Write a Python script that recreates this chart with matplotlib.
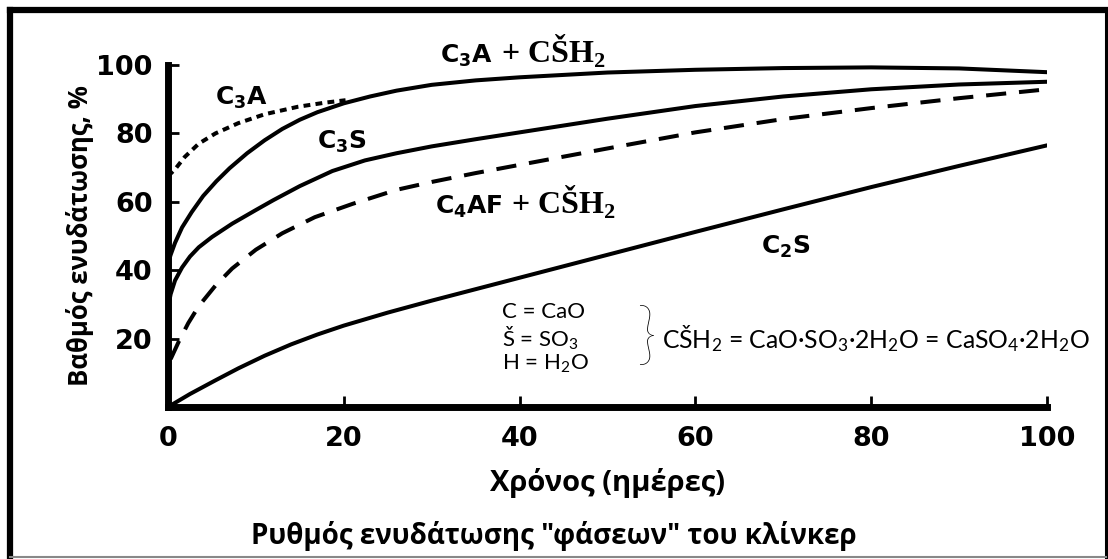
import matplotlib
matplotlib.use("Agg")
import matplotlib.pyplot as plt
from matplotlib.lines import Line2D

# Βαθμός ενυδάτωσης (%) των φάσεων του κλίνκερ ανά ημέρα
dias_c3a = [0, 0.8, 1.9, 3.5, 5.4, 8, 11, 14.8, 17.9, 20.2]
c3a = [67.5, 69.5, 73.1, 77, 80, 83, 85.6, 87.8, 89, 89.7]

dias_c3a_yeso = [0, 0.3, 0.8, 1.6, 2.7, 4, 5.5, 7, 9, 11, 13, 15, 17, 20, 23,
                 26, 30, 35, 40, 50, 60, 70, 80, 90, 100]
c3a_yeso = [42, 44.5, 48, 52.5, 57, 61.7, 66, 69.8, 74.2, 78, 81.3, 84, 86.2,
            88.8, 90.8, 92.5, 94.2, 95.5, 96.4, 97.8, 98.6, 99.1, 99.3, 99.0,
            97.9]

dias_c3s = [0, 0.3, 0.8, 1.6, 2.5, 3.5, 5, 7.3, 10, 12, 15, 18.7, 22.4, 26,
            30, 35, 40, 50, 60, 70, 80, 90, 100]
c3s = [29, 33, 37, 40.8, 44, 46.7, 49.7, 53.6, 57.6, 60.5, 64.6, 69.0, 72.1,
       74.2, 76.2, 78.3, 80.3, 84.3, 88.0, 90.8, 92.9, 94.3, 95.1]

dias_c4af = [0.3, 1.2, 2.3, 3.5, 5.4, 7.3, 10, 13, 16.7, 21, 26, 30, 35, 40,
             45, 50, 60, 70, 80, 90, 100]
c4af = [14, 19, 24.5, 29.5, 35.5, 40.5, 46, 50.8, 55.5, 59.4, 63.5, 65.8,
        68.4, 70.8, 73.2, 75.6, 80.3, 84.2, 87.4, 90.3, 92.9]

dias_c2s = [0, 2.5, 5.4, 8, 11, 14, 17, 20, 25, 30, 40, 50, 60, 70, 80, 90, 100]
c2s = [0, 3.8, 7.8, 11.3, 15, 18.3, 21.2, 23.8, 27.6, 31.1, 37.8, 44.5, 51.2,
       57.8, 64.3, 70.5, 76.5]

xticks = [0, 20, 40, 60, 80, 100]
yticks = [20, 40, 60, 80, 100]

SANS = ["Open Sans", "DejaVu Sans"]
SERIF = ["Liberation Serif", "DejaVu Serif"]
LEG = ["Lato", "DejaVu Sans"]

plt.rcParams["mathtext.fontset"] = "custom"
plt.rcParams["mathtext.rm"] = "Lato"
plt.rcParams["mathtext.it"] = "Lato:italic"
plt.rcParams["mathtext.sf"] = "DejaVu Sans:bold"
plt.rcParams["mathtext.bf"] = "Liberation Serif:bold"

W, H = 1108, 559
fig = plt.figure(figsize=(W / 100, H / 100), dpi=100)
ax = fig.add_axes([168 / W, 1 - 407 / H, (1047 - 168) / W, (407 - 65) / H])

lw = 2.9
ax.plot(dias_c3a, c3a, color="black", lw=lw, ls=(0, (1.7, 1.3)))
ax.plot(dias_c3a_yeso, c3a_yeso, color="black", lw=lw, solid_capstyle="round")
ax.plot(dias_c3s, c3s, color="black", lw=lw, solid_capstyle="round")
ax.plot(dias_c4af, c4af, color="black", lw=lw, ls=(0, (5, 3.2)))
ax.plot(dias_c2s, c2s, color="black", lw=lw, solid_capstyle="round")

ax.set_xlim(0, 100)
ax.set_ylim(0, 100)
for s in ["top", "right"]:
    ax.spines[s].set_visible(False)
for s in ["left", "bottom"]:
    ax.spines[s].set_linewidth(5)
    ax.spines[s].set_capstyle("projecting")

ax.set_xticks(xticks)
ax.set_yticks(yticks)
ax.tick_params(direction="in", length=8, width=2, colors="black")
ax.tick_params(axis="x", pad=14)
ax.tick_params(axis="y", pad=11)
for lab in ax.get_xticklabels() + ax.get_yticklabels():
    lab.set_fontfamily("DejaVu Sans")
    lab.set_fontweight("bold")
    lab.set_fontsize(19.5)

ax.set_xlabel("Χρόνος (ημέρες)", family=SANS, fontweight="bold", fontsize=21,
              labelpad=11)
ax.set_ylabel("Βαθμός ενυδάτωσης, %", family=SANS, fontweight="bold",
              fontsize=18.5, labelpad=2)
fig.text(0.5, 1 - 536 / H, 'Ρυθμός ενυδάτωσης "φάσεων" του κλίνκερ',
         family=SANS, fontweight="bold", fontsize=20, ha="center", va="center")

# ετικέτες καμπυλών
lab_kw = dict(fontsize=18, va="baseline", clip_on=False)
ser_kw = dict(family=SERIF, fontweight="bold", fontsize=23, va="baseline")
ax.text(5.4, 88.5, r"$\mathsf{C_3A}$", **lab_kw)
ax.text(17, 75.5, r"$\mathsf{C_3S}$", **lab_kw)
ax.text(67.5, 44.8, r"$\mathsf{C_2S}$", **lab_kw)

t1 = ax.text(31, 100.5, r"$\mathsf{C_3A}$", **lab_kw)
ax.annotate(r" + CŠH$_\mathbf{2}$", xy=(1, 100.5), xycoords=(t1, "data"),
            annotation_clip=False, **ser_kw)
t2 = ax.text(30.4, 56.5, r"$\mathsf{C_4AF}$", **lab_kw)
ax.annotate(r" + CŠH$_\mathbf{2}$", xy=(1, 56.5), xycoords=(t2, "data"),
            **ser_kw)

# συμβολισμοί
sym_kw = dict(family=LEG, fontsize=16, va="center")
ax.text(38, 27.7, "C = CaO", **sym_kw)
ax.text(38, 20.2, r"Š = SO$_3$", **sym_kw)
ax.text(38, 12.5, r"H = H$_2$O", **sym_kw)
ax.text(54.4, 20, "}", family=LEG, fontsize=50, fontweight="light",
        ha="center", va="center")
ax.text(56.2, 20, r"CŠH$_2$ = CaO·SO$_3$·2H$_2$O = CaSO$_4$·2H$_2$O",
        family=LEG, fontsize=17.8, va="center")

# πλαίσιο εικόνας
def frame_line(x0, y0, x1, y1, lw, color):
    fig.add_artist(Line2D([x0 / W, x1 / W], [1 - y0 / H, 1 - y1 / H],
                          transform=fig.transFigure, lw=lw, color=color,
                          solid_capstyle="projecting"))

frame_line(10, 10, 1106, 10, 4.5, "black")
frame_line(10, 10, 10, 558, 4.5, "black")
frame_line(1106, 10, 1106, 558, 2.2, "black")
frame_line(10, 557, 1106, 557, 1.5, "#888888")

fig.savefig("out.png", dpi=100)
